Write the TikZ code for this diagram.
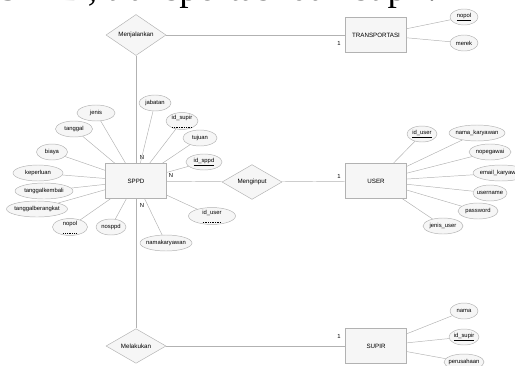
\documentclass[tikz,border=0pt]{standalone}
\usepackage{fontspec}
\setmainfont{Liberation Serif}
\setsansfont{Liberation Sans}
\usetikzlibrary{shapes.geometric}

% garis bawah putus-putus untuk kunci tamu
\newcommand{\garisputus}[1]{\setbox0\hbox{#1}\vtop{\copy0\kern0.6pt
  \hbox to \wd0{\xleaders\hbox to 1.4pt{\hss\vrule width 0.8pt height 0.25pt\hss}\hfil}}}

\tikzset{
  entitas/.style={draw=gray!60, fill=gray!7, minimum width=61*0.03cm, minimum height=35*0.03cm,
    font=\sffamily\fontsize{5.3}{6}\selectfont},
  relasi/.style={diamond, draw=gray!60, fill=gray!7, inner sep=0pt, minimum width=60*0.03cm,
    minimum height=26*0.03cm, font=\sffamily\fontsize{5.3}{6}\selectfont},
  atribut/.style={ellipse, draw=gray!60, fill=gray!7, inner sep=0pt, minimum width=#1*0.03cm,
    minimum height=16*0.03cm, font=\sffamily\fontsize{5}{6}\selectfont,
    execute at begin node={\hbox to 0pt\bgroup\hss}, execute at end node={\hss\egroup}},
  atribut/.default=34,
  kard/.style={inner sep=0pt, font=\sffamily\fontsize{5}{6}\selectfont},
  garis/.style={draw=gray!60, line width=0.4pt}
}

\begin{document}
\begin{tikzpicture}[x=0.03cm, y=-0.03cm]
    \useasboundingbox (0,0) rectangle (515,365);
    \clip (0,0) rectangle (515,365);

    % potongan kalimat di atas
    \node[anchor=base west, inner sep=0pt, font=\fontsize{32}{34}\selectfont] (judul) at (-2,1) {SPPD, transportasi dan supir.};

    % entitas
    \node[entitas] (sppd)  at (136,181) {SPPD};
    \node[entitas] (trans) at (376,35)  {TRANSPORTASI};
    \node[entitas] (user)  at (376,181) {USER};
    \node[entitas] (supir) at (376,346) {SUPIR};

    % relasi
    \node[relasi] (menjalankan) at (136,35)  {Menjalankan};
    \node[relasi] (menginput)   at (252,182) {Menginput};
    \node[relasi] (melakukan)   at (136,346) {Melakukan};

    \path[garis] (menjalankan) edge (trans);
    \path[garis] (menjalankan) edge (sppd);
    \path[garis] (sppd) edge (melakukan);
    \path[garis] (melakukan) edge (supir);
    \path[garis] (sppd) edge (menginput);
    \path[garis] (menginput) edge (user);

    \node[kard] (n1) at (142,157) {N};
    \node[kard] (n2) at (171,175) {N};
    \node[kard] (n3) at (142,205) {N};
    \node[kard] (k1) at (339,43)  {1};
    \node[kard] (k2) at (339,176) {1};
    \node[kard] (k3) at (339,336) {1};

    % atribut SPPD
    \node[atribut=38] (jenis)   at (96,113)  {jenis};
    \node[atribut=32] (jabatan) at (155,103) {jabatan};
    \node[atribut=32] (idsupir) at (182,121) {\garisputus{id\_supir}};
    \node[atribut=37] (tanggal) at (74,129)  {tanggal};
    \node[atribut=34] (tujuan)  at (200,138) {tujuan};
    \node[atribut=31] (biaya)   at (52,152)  {biaya};
    \node[atribut=36] (idsppd)  at (204,162) {\underline{id\_sppd}};
    \node[atribut=50] (perlu)   at (38,173)  {keperluan};
    \node[atribut=58] (tglk)    at (44,191)  {tanggalkembali};
    \node[atribut=61] (tglb)    at (37,209)  {tanggalberangkat};
    \node[atribut=35] (nopol)   at (70,227)  {\garisputus{nopol}};
    \node[atribut=30] (nosppd)  at (111,227) {nosppd};
    \node[atribut=52] (namak)   at (166,243) {namakaryawan};
    \node[atribut=47] (iduser)  at (212,216) {\garisputus{id\_user}};

    \foreach \a in {jenis,jabatan,idsupir,tanggal,tujuan,biaya,idsppd,perlu,tglk,tglb,nopol,nosppd,namak,iduser}
        \path[garis] (sppd) edge (\a);

    % atribut TRANSPORTASI
    \node[atribut=28] (tnopol) at (464,17) {\underline{nopol}};
    \node[atribut=28] (merek)  at (464,43) {merek};
    \path[garis] (trans) edge (tnopol);
    \path[garis] (trans) edge (merek);

    % atribut USER
    \node[atribut=30] (uid)    at (422,134) {\underline{id\_user}};
    \node[atribut=56] (unama)  at (477,133) {nama\_karyawan};
    \node[atribut=42] (unip)   at (490,152) {nopegawai};
    \node[atribut=56] (uemail) at (501,173) {email\_karyawan};
    \node[atribut=34] (uname)  at (490,193) {username};
    \node[atribut=40] (upass)  at (478,211) {password};
    \node[atribut=40] (ujenis) at (443,226) {jenis\_user};

    \foreach \a in {uid,unama,unip,uemail,uname,upass,ujenis}
        \path[garis] (user) edge (\a);

    % atribut SUPIR
    \node[atribut=28] (snama)  at (464,311) {nama};
    \node[atribut=30] (sid)    at (464,337) {\underline{id\_supir}};
    \node[atribut=40] (sperus) at (464,362) {perusahaan};
    \path[garis] (supir) edge (snama);
    \path[garis] (supir) edge (sid);
    \path[garis] (supir) edge (sperus);
\end{tikzpicture}
\end{document}
